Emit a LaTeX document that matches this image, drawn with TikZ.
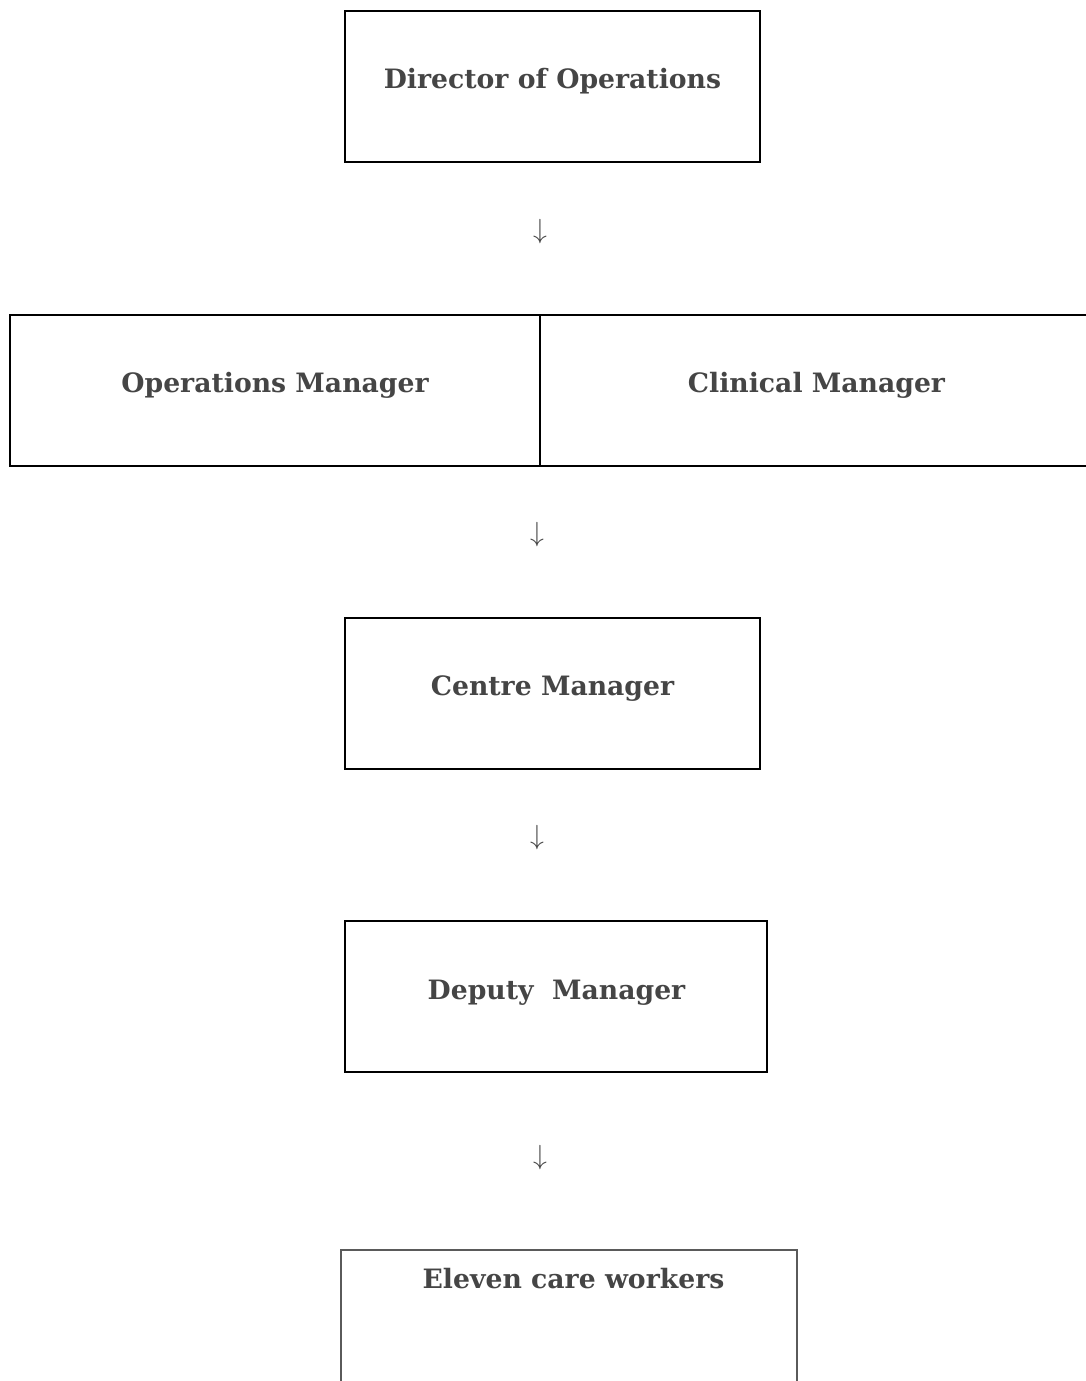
\documentclass[tikz,border=0pt]{standalone}
\usepackage{fontspec}
\setmainfont{DejaVu Serif}
\usepackage{xcolor}
\definecolor{labelgray}{RGB}{69,69,69}
\definecolor{edgegray}{RGB}{90,90,90}

\begin{document}
\begin{tikzpicture}[x=0.75pt,y=0.75pt,yscale=-1,
  box/.style={draw=black, line width=1.5pt, inner sep=0pt, outer sep=0pt, minimum height=113.25pt},
  title/.style={text=labelgray, font=\fontsize{20}{24}\selectfont\bfseries, anchor=base, inner sep=0pt},
  down/.style={text=labelgray, font=\fontsize{22}{26}\selectfont, inner sep=0pt}]
\useasboundingbox (0,0) rectangle (1085,1381);

%Shape: Rectangle [Director]
\node [box, minimum width=311.25pt] (dirbox) at (552.5,86.5) {};
%Shape: Rectangle [Operations]
\node [box, minimum width=397.5pt] (opsbox) at (275,390) {};
%Shape: Rectangle [Clinical]
\node [box, minimum width=410.25pt] (clinbox) at (813.5,390) {};
%Shape: Rectangle [Centre]
\node [box, minimum width=311.25pt] (centrebox) at (552.5,693.5) {};
%Shape: Rectangle [Deputy]
\node [box, minimum width=316.5pt] (deputybox) at (556,996.5) {};
%Shape: open box [Care workers]
\draw [edgegray, line width=0.9pt] (341,1395) |- (797,1250) -- (797,1395) ;

% Text Node
\node [title] (dirtext) at (552.5,88) {Director of Operations};
% Text Node
\node [title] (opstext) at (275,392) {Operations Manager};
% Text Node
\node [title] (clintext) at (816.5,392) {Clinical Manager};
% Text Node
\node [title] (centretext) at (552.5,695) {Centre Manager};
% Text Node
\node [title] (deputytext) at (556.5,999) {Deputy\ \ Manager};
% Text Node
\node [title] (caretext) at (573.5,1288) {Eleven care workers};

% Arrows
\node [down] (arrow1) at (540,232) {$\downarrow$};
\node [down] (arrow2) at (537,535) {$\downarrow$};
\node [down] (arrow3) at (537,838) {$\downarrow$};
\node [down] (arrow4) at (540,1158) {$\downarrow$};

\end{tikzpicture}
\end{document}
